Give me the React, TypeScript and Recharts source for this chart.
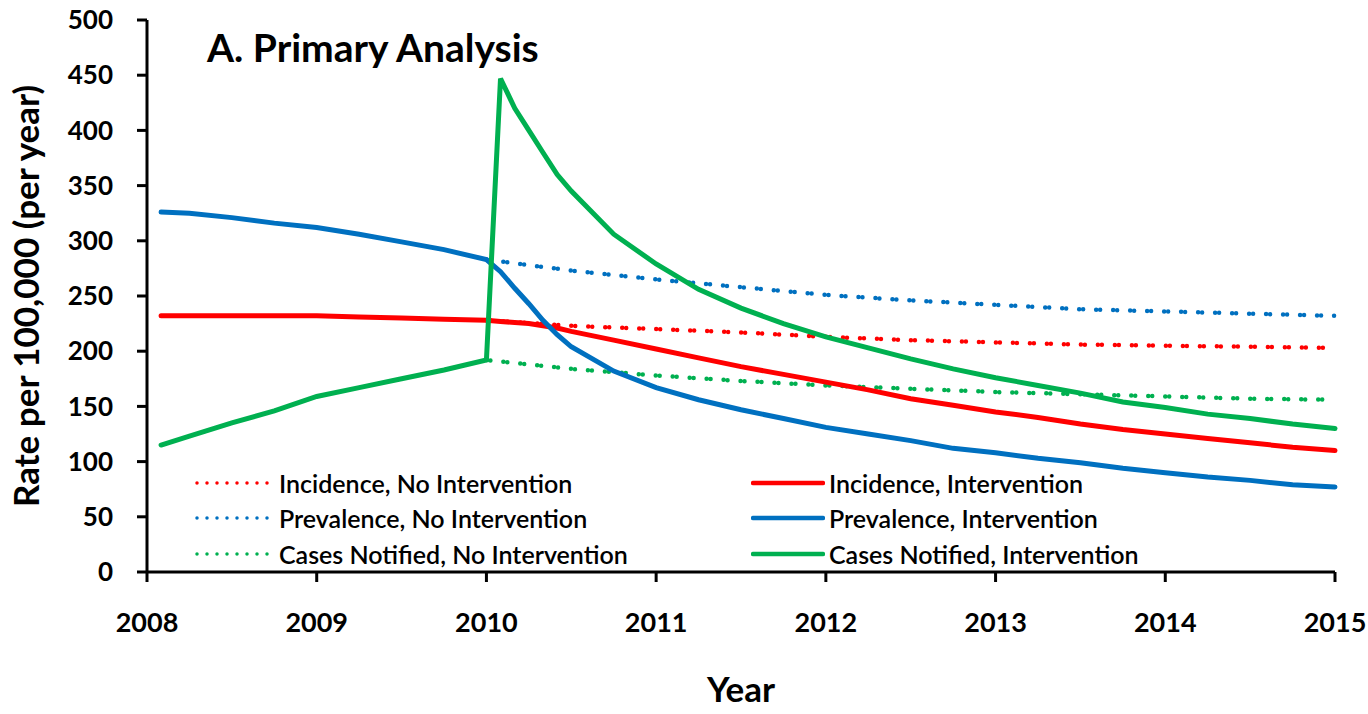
import React from "react";
import { LineChart, Line, XAxis, YAxis, Legend, Label } from "recharts";

// time points (decimal years)
const preYears = [2008.083, 2008.25, 2008.5, 2008.75, 2009, 2009.25, 2009.5, 2009.75, 2010];
const postYears = [
  2010.083, 2010.167, 2010.25, 2010.333, 2010.417, 2010.5, 2010.75, 2011, 2011.25, 2011.5, 2011.75, 2012,
  2012.25, 2012.5, 2012.75, 2013, 2013.25, 2013.5, 2013.75, 2014, 2014.25, 2014.5, 2014.75, 2015,
];
const baselineYears = [2010, 2010.5, 2011, 2011.5, 2012, 2012.5, 2013, 2013.5, 2014, 2014.5, 2015];
const yearTicks = [2008, 2009, 2010, 2011, 2012, 2013, 2014, 2015];
const rateTicks = [0, 50, 100, 150, 200, 250, 300, 350, 400, 450, 500];

// rates per 100,000 before the intervention starts
const incidencePre = [232, 232, 232, 232, 232, 231, 230, 229, 228];
const prevalencePre = [326, 325, 321, 316, 312, 306, 299, 292, 283];
const notifiedPre = [115, 123, 135, 146, 159, 167, 175, 183, 192];

// with intervention
const incidencePost = [
  227, 226, 225, 223, 221, 218, 210, 202, 194, 186, 179, 172, 165, 157, 151, 145, 140, 134, 129, 125, 121, 117, 113, 110,
];
const prevalencePost = [
  272, 257, 243, 228, 215, 204, 182, 167, 156, 147, 139, 131, 125, 119, 112, 108, 103, 99, 94, 90, 86, 83, 79, 77,
];
const notifiedPost = [
  447, 420, 400, 380, 360, 345, 306, 279, 256, 239, 225, 213, 203, 193, 184, 176, 169, 162, 154, 149, 143, 139, 134, 130,
];

// without intervention
const incidenceBase = [228, 223, 220, 217, 213, 210, 208, 206, 205, 204, 203];
const prevalenceBase = [283, 273, 265, 258, 251, 246, 242, 238, 236, 234, 232];
const notifiedBase = [192, 184, 178, 173, 169, 166, 163, 161, 159, 157, 156];

const RED = "#ff0000";
const BLUE = "#0070c0";
const GREEN = "#00b050";

const zip = (xs: number[], ys: number[]) => xs.map((year, i) => ({ year, value: ys[i] }));

const series = [
  { name: "Incidence, No Intervention", color: RED, dotted: true, data: zip(baselineYears, incidenceBase) },
  { name: "Prevalence, No Intervention", color: BLUE, dotted: true, data: zip(baselineYears, prevalenceBase) },
  { name: "Cases Notified, No Intervention", color: GREEN, dotted: true, data: zip(baselineYears, notifiedBase) },
  {
    name: "Incidence, Intervention",
    color: RED,
    dotted: false,
    data: zip([...preYears, ...postYears], [...incidencePre, ...incidencePost]),
  },
  {
    name: "Prevalence, Intervention",
    color: BLUE,
    dotted: false,
    data: zip([...preYears, ...postYears], [...prevalencePre, ...prevalencePost]),
  },
  {
    name: "Cases Notified, Intervention",
    color: GREEN,
    dotted: false,
    data: zip([...preYears, ...postYears], [...notifiedPre, ...notifiedPost]),
  },
];

const FONT = "Lato, 'Open Sans', sans-serif";

function LegendItem({ s, lineW }: { s: (typeof series)[number]; lineW: number }) {
  return (
    <div style={{ display: "flex", alignItems: "center", height: 35.5 }}>
      <svg width={lineW} height={10} style={{ marginRight: 4 }}>
        <line
          x1={2}
          x2={lineW - 2}
          y1={5}
          y2={5}
          stroke={s.color}
          strokeWidth={s.dotted ? 3.5 : 4.5}
          strokeDasharray={s.dotted ? "0 10" : undefined}
          strokeLinecap="round"
        />
      </svg>
      <span style={{ fontSize: 25, color: "#000", fontWeight: 600, whiteSpace: "nowrap" }}>{s.name}</span>
    </div>
  );
}

function LegendGrid() {
  return (
    <div style={{ display: "flex", fontFamily: FONT }}>
      <div style={{ width: 556 }}>
        {series.slice(0, 3).map((s) => (
          <LegendItem key={s.name} s={s} lineW={80} />
        ))}
      </div>
      <div>
        {series.slice(3).map((s) => (
          <LegendItem key={s.name} s={s} lineW={74} />
        ))}
      </div>
    </div>
  );
}

export default function App() {
  return (
    <div style={{ position: "absolute", left: 0, top: 0, width: 1368, height: 714, background: "#fff", fontFamily: FONT }}>
      <LineChart width={1368} height={714} margin={{ top: 20, right: 33, left: 0, bottom: 0 }}>
        <XAxis
          type="number"
          dataKey="year"
          domain={[2008, 2015]}
          ticks={yearTicks}
          allowDuplicatedCategory={false}
          height={142}
          stroke="#000"
          strokeWidth={3}
          tickSize={10}
          tickMargin={31}
          tick={{ fill: "#000", fontSize: 27, fontWeight: 700 }}
        >
          <Label value="Year" position="insideBottom" offset={12} style={{ fill: "#000", fontSize: 35, fontWeight: 700 }} />
        </XAxis>
        <YAxis
          type="number"
          dataKey="value"
          domain={[0, 500]}
          ticks={rateTicks}
          width={147}
          stroke="#000"
          strokeWidth={3}
          tickSize={10}
          tickMargin={24}
          tick={{ fill: "#000", fontSize: 26, fontWeight: 700 }}
        >
          <Label
            value="Rate per 100,000 (per year)"
            angle={-90}
            position="insideLeft"
            offset={27}
            style={{ fill: "#000", fontSize: 35, fontWeight: 700, textAnchor: "middle" }}
          />
        </YAxis>
        <Legend
          layout="horizontal"
          verticalAlign="middle"
          content={() => <LegendGrid />}
          wrapperStyle={{ position: "absolute", left: 195, top: 465, width: 1000 }}
        />
        {series.map((s) => (
          <Line
            key={s.name}
            data={s.data}
            dataKey="value"
            name={s.name}
            type="linear"
            stroke={s.color}
            strokeWidth={s.dotted ? 4.5 : 5}
            strokeDasharray={s.dotted ? "0 4 0 13" : undefined}
            strokeLinecap="round"
            dot={false}
            activeDot={false}
            isAnimationActive={false}
          />
        ))}
      </LineChart>
      <div
        style={{
          position: "absolute",
          left: 207,
          top: 24,
          fontSize: 39,
          fontWeight: 700,
          color: "#000",
          lineHeight: "46px",
          whiteSpace: "nowrap",
        }}
      >
        A. Primary Analysis
      </div>
    </div>
  );
}
